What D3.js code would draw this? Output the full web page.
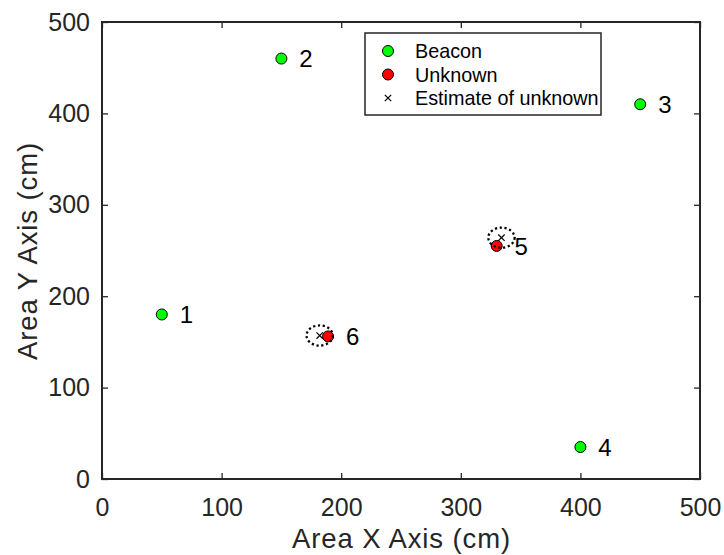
<!DOCTYPE html>
<html>
<head>
<meta charset="utf-8">
<script src="https://cdn.jsdelivr.net/npm/d3@7"></script>
<style>
  html, body { margin: 0; padding: 0; background: #fff; }
  svg { display: block; font-family: "Liberation Sans", Arial, Helvetica, sans-serif; }
</style>
</head>
<body>
<svg id="chart" width="724" height="555"></svg>
<script>
// Known beacon positions (cm)
const beacons = [
  { id: "1", x: 50,  y: 180 },
  { id: "2", x: 150, y: 460 },
  { id: "3", x: 450, y: 410 },
  { id: "4", x: 400, y: 35 }
];
// True positions of the unknown nodes (cm)
const unknowns = [
  { id: "5", x: 330, y: 255 },
  { id: "6", x: 189, y: 156 }
];
// Estimated positions with their uncertainty radius (cm)
const estimates = [
  { id: "5", x: 334, y: 264, r: 11 },
  { id: "6", x: 182, y: 157, r: 11 }
];
const xTicks = [0, 100, 200, 300, 400, 500];
const yTicks = [0, 100, 200, 300, 400, 500];
const legendItems = ["Beacon", "Unknown", "Estimate of unknown"];

const svg = d3.select("#chart");
const axisColor = "#262626";
const plot = { left: 102, right: 700, top: 22, bottom: 479 };

const x = d3.scaleLinear().domain([0, 500]).range([plot.left, plot.right]);
const y = d3.scaleLinear().domain([0, 500]).range([plot.bottom, plot.top]);

const tickLen = 6;
const tickFont = 25;

// Axes: ticks point inward on all four sides
function styleAxis(g) {
  g.select(".domain").remove();
  g.selectAll(".tick line").attr("stroke", axisColor).attr("stroke-width", 1.3);
  g.selectAll(".tick text").attr("fill", axisColor).style("font-size", tickFont + "px");
}
svg.append("g")
  .attr("transform", `translate(0,${plot.bottom})`)
  .call(d3.axisBottom(x).tickValues(xTicks).tickSizeInner(-tickLen).tickSizeOuter(0).tickPadding(19))
  .call(styleAxis);
svg.append("g")
  .attr("transform", `translate(0,${plot.top})`)
  .call(d3.axisTop(x).tickValues(xTicks).tickSizeInner(-tickLen).tickSizeOuter(0).tickFormat(""))
  .call(styleAxis);
svg.append("g")
  .attr("transform", `translate(${plot.left},0)`)
  .call(d3.axisLeft(y).tickValues(yTicks).tickSizeInner(-tickLen).tickSizeOuter(0).tickPadding(12))
  .call(styleAxis);
svg.append("g")
  .attr("transform", `translate(${plot.right},0)`)
  .call(d3.axisRight(y).tickValues(yTicks).tickSizeInner(-tickLen).tickSizeOuter(0).tickFormat(""))
  .call(styleAxis);

// Plot box
svg.append("rect")
  .attr("x", plot.left).attr("y", plot.top)
  .attr("width", plot.right - plot.left).attr("height", plot.bottom - plot.top)
  .attr("fill", "none").attr("stroke", axisColor).attr("stroke-width", 2);

// Axis titles
svg.append("text")
  .attr("x", (plot.left + plot.right) / 2 + 0.5).attr("y", 548)
  .attr("text-anchor", "middle").attr("fill", axisColor)
  .style("font-size", "27.5px").style("letter-spacing", "0.9px")
  .text("Area X Axis (cm)");
svg.append("text")
  .attr("transform", `translate(37,${(plot.top + plot.bottom) / 2 + 0.5}) rotate(-90)`)
  .attr("text-anchor", "middle").attr("fill", axisColor)
  .style("font-size", "27.5px").style("letter-spacing", "0.9px")
  .text("Area Y Axis (cm)");

const markerR = 5.5;
const labelFont = 24;

// Beacons
svg.append("g").selectAll("circle").data(beacons).join("circle")
  .attr("cx", d => x(d.x)).attr("cy", d => y(d.y)).attr("r", markerR)
  .attr("fill", "#00ff00").attr("stroke", "#000").attr("stroke-width", 1);

// Unknown true positions
svg.append("g").selectAll("circle").data(unknowns).join("circle")
  .attr("cx", d => x(d.x)).attr("cy", d => y(d.y)).attr("r", markerR)
  .attr("fill", "#ff0000").attr("stroke", "#000").attr("stroke-width", 1);

// Estimate crosses
const xs = 3.2;
svg.append("g").selectAll("path").data(estimates).join("path")
  .attr("d", d => {
    const cx = x(d.x), cy = y(d.y);
    return `M${cx - xs},${cy - xs}L${cx + xs},${cy + xs}M${cx - xs},${cy + xs}L${cx + xs},${cy - xs}`;
  })
  .attr("stroke", "#000").attr("stroke-width", 1.2).attr("fill", "none");

// Uncertainty rings around the estimates (radius in data units)
svg.append("g").selectAll("ellipse").data(estimates).join("ellipse")
  .attr("cx", d => x(d.x)).attr("cy", d => y(d.y))
  .attr("rx", d => x(d.r) - x(0)).attr("ry", d => y(0) - y(d.r))
  .attr("fill", "none").attr("stroke", "#000").attr("stroke-width", 2.3)
  .attr("stroke-dasharray", "2.2 2.6");

// Node number labels
const labelOffset = 15;
svg.append("g").selectAll("text").data(beacons.concat(unknowns)).join("text")
  .attr("x", d => x(d.x + labelOffset)).attr("y", d => y(d.y))
  .attr("dy", "0.36em")
  .attr("fill", "#000")
  .style("font-size", labelFont + "px")
  .text(d => d.id);

// Legend
const lg = svg.append("g");
lg.append("rect")
  .attr("x", 365).attr("y", 33).attr("width", 236).attr("height", 82)
  .attr("fill", "#fff").attr("stroke", axisColor).attr("stroke-width", 1.5);
const rowY = [51, 74.5, 98];
const mx = 388;
lg.append("circle").attr("cx", mx).attr("cy", rowY[0]).attr("r", markerR)
  .attr("fill", "#00ff00").attr("stroke", "#000").attr("stroke-width", 1);
lg.append("circle").attr("cx", mx).attr("cy", rowY[1]).attr("r", markerR)
  .attr("fill", "#ff0000").attr("stroke", "#000").attr("stroke-width", 1);
lg.append("path")
  .attr("d", `M${mx - xs},${rowY[2] - xs}L${mx + xs},${rowY[2] + xs}M${mx - xs},${rowY[2] + xs}L${mx + xs},${rowY[2] - xs}`)
  .attr("stroke", "#000").attr("stroke-width", 1.2);
lg.selectAll("text").data(legendItems).join("text")
  .attr("x", 415).attr("y", (d, i) => rowY[i]).attr("dy", "0.36em")
  .attr("fill", "#000").style("font-size", "19.8px")
  .text(d => d);
</script>
</body>
</html>
